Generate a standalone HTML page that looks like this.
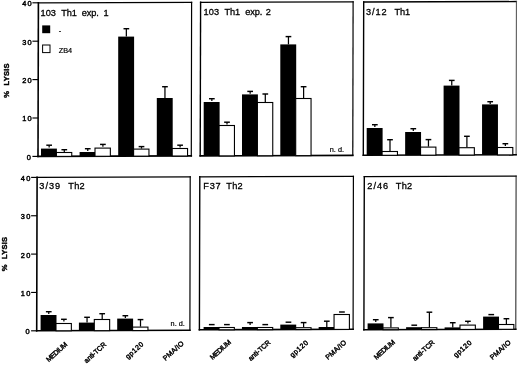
<!DOCTYPE html>
<html lang="en">
<head>
<meta charset="utf-8">
<title>% Lysis by Th1 and Th2 clones</title>
<style>
html,body{margin:0;padding:0;background:#fff;}
body{width:520px;height:365px;overflow:hidden;}
svg{display:block;}
text{font-family:"Liberation Sans",Arial,Helvetica,sans-serif;fill:#000;}
.tt{font-size:9.2px;stroke:#000;stroke-width:0.3px;}
.tk{font-size:7.4px;letter-spacing:1.3px;stroke:#000;stroke-width:0.45px;}
.yl{font-size:7.6px;font-weight:bold;stroke:#000;stroke-width:0.4px;letter-spacing:0.2px;}
.sm{font-size:7.3px;stroke:#000;stroke-width:0.2px;}
.xl{font-size:7px;stroke:#000;stroke-width:0.42px;}
</style>
</head>
<body>
<svg width="520" height="365" viewBox="0 0 520 365">
<rect x="0" y="0" width="520" height="365" fill="#fff"/>
<g stroke="#000" fill="none" stroke-linecap="square">
<line x1="38.4" y1="2.8" x2="191.6" y2="2.29" stroke-width="1.3"/>
<line x1="191.6" y1="2.29" x2="191.3" y2="155.89" stroke-width="1.2"/>
<line x1="38.4" y1="2.8" x2="38" y2="156.4" stroke-width="1.6"/>
<line x1="38" y1="156.4" x2="191.3" y2="155.89" stroke-width="1.6"/>
<line x1="32.4" y1="2.8" x2="38.4" y2="2.8" stroke-width="1.15" stroke-linecap="butt"/>
<line x1="32.4" y1="41.2" x2="38.4" y2="41.2" stroke-width="1.15" stroke-linecap="butt"/>
<line x1="32.4" y1="79.6" x2="38.4" y2="79.6" stroke-width="1.15" stroke-linecap="butt"/>
<line x1="32.4" y1="118" x2="38.4" y2="118" stroke-width="1.15" stroke-linecap="butt"/>
<line x1="32.4" y1="156.4" x2="38.4" y2="156.4" stroke-width="1.15" stroke-linecap="butt"/>
</g>
<text class="tk" x="33" y="6.2" text-anchor="end">40</text>
<text class="tk" x="33" y="44.6" text-anchor="end">30</text>
<text class="tk" x="33" y="83" text-anchor="end">20</text>
<text class="tk" x="33" y="121.4" text-anchor="end">10</text>
<text class="tk" x="32.2" y="159.8" text-anchor="end">0</text>
<text class="yl" transform="translate(8.8,97.8) rotate(-90)">%</text>
<text class="yl" transform="translate(8.8,85.5) rotate(-90)">LYSIS</text>
<text class="tt" y="15.6"><tspan x="40.56" letter-spacing="0.02">103</tspan> <tspan x="61.27" letter-spacing="-0.1">Th1</tspan> <tspan x="81.79" letter-spacing="-0.1">exp.</tspan> <tspan x="103.51" letter-spacing="0">1</tspan></text>
<rect x="41" y="148.6" width="15.9" height="7.79" fill="#000"/>
<rect x="56.4" y="152.5" width="15.35" height="3.89" fill="#fff" stroke="#000" stroke-width="1.1"/>
<path d="M46.3 145.2H52" stroke="#000" stroke-width="1.45" fill="none"/>
<path d="M49.15 145.2V147.5" stroke="#000" stroke-width="1.25" fill="none"/>
<path d="M61.45 149.7H67.15" stroke="#000" stroke-width="1.45" fill="none"/>
<path d="M64.3 149.7V152" stroke="#000" stroke-width="1.25" fill="none"/>
<rect x="79.6" y="152" width="15.9" height="4.26" fill="#000"/>
<rect x="95" y="148.1" width="15.35" height="8.16" fill="#fff" stroke="#000" stroke-width="1.1"/>
<path d="M84.9 148.7H90.6" stroke="#000" stroke-width="1.45" fill="none"/>
<path d="M87.75 148.7V151" stroke="#000" stroke-width="1.25" fill="none"/>
<path d="M100.05 144.4H105.75" stroke="#000" stroke-width="1.45" fill="none"/>
<path d="M102.9 144.4V146.7" stroke="#000" stroke-width="1.25" fill="none"/>
<rect x="118.2" y="36.6" width="15.9" height="119.54" fill="#000"/>
<rect x="133.6" y="149.1" width="15.35" height="7.04" fill="#fff" stroke="#000" stroke-width="1.1"/>
<path d="M123.5 28.7H129.2" stroke="#000" stroke-width="1.45" fill="none"/>
<path d="M126.35 28.7V36.6" stroke="#000" stroke-width="1.25" fill="none"/>
<path d="M138.65 146.6H144.35" stroke="#000" stroke-width="1.45" fill="none"/>
<path d="M141.5 146.6V148.6" stroke="#000" stroke-width="1.25" fill="none"/>
<rect x="156.8" y="98" width="15.9" height="58.01" fill="#000"/>
<rect x="172.2" y="148.5" width="15.35" height="7.51" fill="#fff" stroke="#000" stroke-width="1.1"/>
<path d="M162.1 86.7H167.8" stroke="#000" stroke-width="1.45" fill="none"/>
<path d="M164.95 86.7V98" stroke="#000" stroke-width="1.25" fill="none"/>
<path d="M177.25 145.2H182.95" stroke="#000" stroke-width="1.45" fill="none"/>
<path d="M180.1 145.2V147.5" stroke="#000" stroke-width="1.25" fill="none"/>
<g stroke="#000" fill="none" stroke-linecap="square">
<line x1="200.6" y1="2.3" x2="353.1" y2="1.8" stroke-width="1.3"/>
<line x1="353.1" y1="1.8" x2="352.8" y2="155.4" stroke-width="1.2"/>
<line x1="200.6" y1="2.3" x2="200.2" y2="155.9" stroke-width="1.4"/>
<line x1="200.2" y1="155.9" x2="352.8" y2="155.4" stroke-width="1.6"/>
</g>
<text class="tt" y="15"><tspan x="203.61" letter-spacing="0.09">103</tspan> <tspan x="224.47" letter-spacing="-0.1">Th1</tspan> <tspan x="245.29" letter-spacing="-0.1">exp.</tspan> <tspan x="265.74" letter-spacing="0">2</tspan></text>
<rect x="203.7" y="102" width="15.9" height="53.89" fill="#000"/>
<rect x="219.1" y="125.5" width="15.35" height="30.39" fill="#fff" stroke="#000" stroke-width="1.1"/>
<path d="M209 98.7H214.7" stroke="#000" stroke-width="1.45" fill="none"/>
<path d="M211.85 98.7V101" stroke="#000" stroke-width="1.25" fill="none"/>
<path d="M224.15 122.2H229.85" stroke="#000" stroke-width="1.45" fill="none"/>
<path d="M227 122.2V124.5" stroke="#000" stroke-width="1.25" fill="none"/>
<rect x="242" y="94.4" width="15.9" height="61.36" fill="#000"/>
<rect x="257.4" y="102.5" width="15.35" height="53.26" fill="#fff" stroke="#000" stroke-width="1.1"/>
<path d="M247.3 91.4H253" stroke="#000" stroke-width="1.45" fill="none"/>
<path d="M250.15 91.4V93.7" stroke="#000" stroke-width="1.25" fill="none"/>
<path d="M262.45 94H268.15" stroke="#000" stroke-width="1.45" fill="none"/>
<path d="M265.3 94V102" stroke="#000" stroke-width="1.25" fill="none"/>
<rect x="280.3" y="44.4" width="15.9" height="111.24" fill="#000"/>
<rect x="295.7" y="98.5" width="15.35" height="57.14" fill="#fff" stroke="#000" stroke-width="1.1"/>
<path d="M285.6 36.6H291.3" stroke="#000" stroke-width="1.45" fill="none"/>
<path d="M288.45 36.6V44.4" stroke="#000" stroke-width="1.25" fill="none"/>
<path d="M300.75 86.7H306.45" stroke="#000" stroke-width="1.45" fill="none"/>
<path d="M303.6 86.7V98" stroke="#000" stroke-width="1.25" fill="none"/>
<text class="sm" x="329.8" y="152">n. d.</text>
<g stroke="#000" fill="none" stroke-linecap="square">
<line x1="363.7" y1="2" x2="516.4" y2="1.5" stroke-width="1.3"/>
<line x1="516.4" y1="1.5" x2="516.1" y2="154.8" stroke-width="1.0" stroke="#4a4a4a"/>
<line x1="363.7" y1="2" x2="363.3" y2="155.3" stroke-width="1.4"/>
<line x1="363.3" y1="155.3" x2="516.1" y2="154.8" stroke-width="1.6"/>
</g>
<text class="tt" y="14.9"><tspan x="365.93" letter-spacing="0.96">3/12</tspan> <tspan x="394.57" letter-spacing="-0.1">Th1</tspan></text>
<rect x="366.7" y="128" width="15.9" height="27.29" fill="#000"/>
<rect x="382.1" y="151.5" width="15.35" height="3.79" fill="#fff" stroke="#000" stroke-width="1.1"/>
<path d="M372 124.7H377.7" stroke="#000" stroke-width="1.45" fill="none"/>
<path d="M374.85 124.7V127" stroke="#000" stroke-width="1.25" fill="none"/>
<path d="M387.15 139.7H392.85" stroke="#000" stroke-width="1.45" fill="none"/>
<path d="M390 139.7V151" stroke="#000" stroke-width="1.25" fill="none"/>
<rect x="405.15" y="132" width="15.9" height="23.16" fill="#000"/>
<rect x="420.55" y="147.1" width="15.35" height="8.06" fill="#fff" stroke="#000" stroke-width="1.1"/>
<path d="M410.45 128.7H416.15" stroke="#000" stroke-width="1.45" fill="none"/>
<path d="M413.3 128.7V131" stroke="#000" stroke-width="1.25" fill="none"/>
<path d="M425.6 139.6H431.3" stroke="#000" stroke-width="1.45" fill="none"/>
<path d="M428.45 139.6V146.6" stroke="#000" stroke-width="1.25" fill="none"/>
<rect x="443.6" y="85.6" width="15.9" height="69.44" fill="#000"/>
<rect x="459" y="147.7" width="15.35" height="7.34" fill="#fff" stroke="#000" stroke-width="1.1"/>
<path d="M448.9 80.4H454.6" stroke="#000" stroke-width="1.45" fill="none"/>
<path d="M451.75 80.4V85.6" stroke="#000" stroke-width="1.25" fill="none"/>
<path d="M464.05 136.3H469.75" stroke="#000" stroke-width="1.45" fill="none"/>
<path d="M466.9 136.3V147.2" stroke="#000" stroke-width="1.25" fill="none"/>
<rect x="482.05" y="104.4" width="15.9" height="50.51" fill="#000"/>
<rect x="497.45" y="147.5" width="15.35" height="7.41" fill="#fff" stroke="#000" stroke-width="1.1"/>
<path d="M487.35 101.7H493.05" stroke="#000" stroke-width="1.45" fill="none"/>
<path d="M490.2 101.7V104" stroke="#000" stroke-width="1.25" fill="none"/>
<path d="M502.5 143.7H508.2" stroke="#000" stroke-width="1.45" fill="none"/>
<path d="M505.35 143.7V146" stroke="#000" stroke-width="1.25" fill="none"/>
<g stroke="#000" fill="none" stroke-linecap="square">
<line x1="37.1" y1="177.4" x2="190.2" y2="176.89" stroke-width="1.3"/>
<line x1="190.2" y1="176.89" x2="189.9" y2="330.29" stroke-width="1.2"/>
<line x1="37.1" y1="177.4" x2="36.7" y2="330.8" stroke-width="1.6"/>
<line x1="36.7" y1="330.8" x2="189.9" y2="330.29" stroke-width="1.6"/>
<line x1="31.1" y1="177.4" x2="37.1" y2="177.4" stroke-width="1.15" stroke-linecap="butt"/>
<line x1="31.1" y1="215.75" x2="37.1" y2="215.75" stroke-width="1.15" stroke-linecap="butt"/>
<line x1="31.1" y1="254.1" x2="37.1" y2="254.1" stroke-width="1.15" stroke-linecap="butt"/>
<line x1="31.1" y1="292.45" x2="37.1" y2="292.45" stroke-width="1.15" stroke-linecap="butt"/>
<line x1="31.1" y1="330.8" x2="37.1" y2="330.8" stroke-width="1.15" stroke-linecap="butt"/>
</g>
<text class="tk" x="31.7" y="180.8" text-anchor="end">40</text>
<text class="tk" x="31.7" y="219.15" text-anchor="end">30</text>
<text class="tk" x="31.7" y="257.5" text-anchor="end">20</text>
<text class="tk" x="31.7" y="295.85" text-anchor="end">10</text>
<text class="tk" x="30.9" y="334.2" text-anchor="end">0</text>
<text class="yl" transform="translate(7.3,271.3) rotate(-90)">%</text>
<text class="yl" transform="translate(7.3,259) rotate(-90)">LYSIS</text>
<text class="tt" y="189.2"><tspan x="39.33" letter-spacing="1">3/39</tspan> <tspan x="68.27" letter-spacing="0.31">Th2</tspan></text>
<rect x="40.6" y="315" width="15.9" height="15.79" fill="#000"/>
<rect x="56" y="323.5" width="15.35" height="7.29" fill="#fff" stroke="#000" stroke-width="1.1"/>
<path d="M45.9 311.7H51.6" stroke="#000" stroke-width="1.45" fill="none"/>
<path d="M48.75 311.7V314" stroke="#000" stroke-width="1.25" fill="none"/>
<path d="M61.05 319.3H66.75" stroke="#000" stroke-width="1.45" fill="none"/>
<path d="M63.9 319.3V321.6" stroke="#000" stroke-width="1.25" fill="none"/>
<rect x="78.9" y="322.6" width="15.9" height="8.06" fill="#000"/>
<rect x="94.3" y="319.5" width="15.35" height="11.16" fill="#fff" stroke="#000" stroke-width="1.1"/>
<path d="M84.2 317.3H89.9" stroke="#000" stroke-width="1.45" fill="none"/>
<path d="M87.05 317.3V322.6" stroke="#000" stroke-width="1.25" fill="none"/>
<path d="M99.35 313.7H105.05" stroke="#000" stroke-width="1.45" fill="none"/>
<path d="M102.2 313.7V319" stroke="#000" stroke-width="1.25" fill="none"/>
<rect x="117.2" y="318.6" width="15.9" height="11.94" fill="#000"/>
<rect x="132.6" y="327.1" width="15.35" height="3.44" fill="#fff" stroke="#000" stroke-width="1.1"/>
<path d="M122.5 315.7H128.2" stroke="#000" stroke-width="1.45" fill="none"/>
<path d="M125.35 315.7V318" stroke="#000" stroke-width="1.25" fill="none"/>
<path d="M137.65 319.6H143.35" stroke="#000" stroke-width="1.45" fill="none"/>
<path d="M140.5 319.6V326.6" stroke="#000" stroke-width="1.25" fill="none"/>
<text class="sm" x="170.6" y="326">n. d.</text>
<text class="xl" transform="translate(67.45,345.4) rotate(-42)" text-anchor="end" letter-spacing="-0.55">MEDIUM</text>
<text class="xl" transform="translate(106.68,345.29) rotate(-42)" text-anchor="end" letter-spacing="-0.12">anti-TCR</text>
<text class="xl" transform="translate(144.35,344.66) rotate(-42)" text-anchor="end" letter-spacing="0.5">gp120</text>
<text class="xl" transform="translate(184.35,343.99) rotate(-42)" text-anchor="end" letter-spacing="0.15">PMA/IO</text>
<g stroke="#000" fill="none" stroke-linecap="square">
<line x1="199.8" y1="176.8" x2="353.4" y2="176.29" stroke-width="1.3"/>
<line x1="353.4" y1="176.29" x2="353.1" y2="329.29" stroke-width="1.2"/>
<line x1="199.8" y1="176.8" x2="199.4" y2="329.8" stroke-width="1.4"/>
<line x1="199.4" y1="329.8" x2="353.1" y2="329.29" stroke-width="1.6"/>
</g>
<text class="tt" y="189.2"><tspan x="203.26" letter-spacing="0.79">F37</tspan> <tspan x="226.27" letter-spacing="0.31">Th2</tspan></text>
<rect x="203.6" y="327" width="15.9" height="2.79" fill="#000"/>
<rect x="219" y="327.5" width="15.35" height="2.29" fill="#fff" stroke="#000" stroke-width="1.1"/>
<path d="M208.9 324.6H214.6" stroke="#000" stroke-width="1.45" fill="none"/>
<path d="M224.05 324.6H229.75" stroke="#000" stroke-width="1.45" fill="none"/>
<rect x="241.95" y="327" width="15.9" height="2.66" fill="#000"/>
<rect x="257.35" y="327.5" width="15.35" height="2.16" fill="#fff" stroke="#000" stroke-width="1.1"/>
<path d="M247.25 322.6H252.95" stroke="#000" stroke-width="1.45" fill="none"/>
<path d="M250.1 322.6V324.9" stroke="#000" stroke-width="1.25" fill="none"/>
<path d="M262.4 324.6H268.1" stroke="#000" stroke-width="1.45" fill="none"/>
<rect x="280.3" y="324.6" width="15.9" height="4.93" fill="#000"/>
<rect x="295.7" y="327.7" width="15.35" height="1.83" fill="#fff" stroke="#000" stroke-width="1.1"/>
<path d="M285.6 322.2H291.3" stroke="#000" stroke-width="1.45" fill="none"/>
<path d="M300.75 322.6H306.45" stroke="#000" stroke-width="1.45" fill="none"/>
<path d="M303.6 322.6V327.2" stroke="#000" stroke-width="1.25" fill="none"/>
<rect x="318.65" y="327" width="15.9" height="2.41" fill="#000"/>
<rect x="334.05" y="314.5" width="15.35" height="14.91" fill="#fff" stroke="#000" stroke-width="1.1"/>
<path d="M323.95 321.2H329.65" stroke="#000" stroke-width="1.45" fill="none"/>
<path d="M326.8 321.2V327" stroke="#000" stroke-width="1.25" fill="none"/>
<path d="M339.1 312H344.8" stroke="#000" stroke-width="1.45" fill="none"/>
<text class="xl" transform="translate(231.15,343.21) rotate(-42)" text-anchor="end" letter-spacing="-0.55">MEDIUM</text>
<text class="xl" transform="translate(270.83,343.1) rotate(-42)" text-anchor="end" letter-spacing="-0.12">anti-TCR</text>
<text class="xl" transform="translate(308.9,343.1) rotate(-42)" text-anchor="end" letter-spacing="0.5">gp120</text>
<text class="xl" transform="translate(346.9,343.1) rotate(-42)" text-anchor="end" letter-spacing="0.15">PMA/IO</text>
<g stroke="#000" fill="none" stroke-linecap="square">
<line x1="364.3" y1="176.6" x2="516.1" y2="176.1" stroke-width="1.3"/>
<line x1="516.1" y1="176.1" x2="515.8" y2="329.2" stroke-width="1.0" stroke="#1a1a1a"/>
<line x1="364.3" y1="176.6" x2="363.9" y2="329.7" stroke-width="1.4"/>
<line x1="363.9" y1="329.7" x2="515.8" y2="329.2" stroke-width="1.6"/>
</g>
<text class="tt" y="189"><tspan x="367.34" letter-spacing="0.98">2/46</tspan> <tspan x="395.77" letter-spacing="0.31">Th2</tspan></text>
<rect x="367.6" y="323.4" width="15.9" height="6.29" fill="#000"/>
<rect x="383" y="327.9" width="15.35" height="1.79" fill="#fff" stroke="#000" stroke-width="1.1"/>
<path d="M372.9 319.7H378.6" stroke="#000" stroke-width="1.45" fill="none"/>
<path d="M375.75 319.7V322" stroke="#000" stroke-width="1.25" fill="none"/>
<path d="M388.05 317.6H393.75" stroke="#000" stroke-width="1.45" fill="none"/>
<path d="M390.9 317.6V327.4" stroke="#000" stroke-width="1.25" fill="none"/>
<rect x="406.1" y="327.2" width="15.9" height="2.36" fill="#000"/>
<rect x="421.5" y="327.7" width="15.35" height="1.86" fill="#fff" stroke="#000" stroke-width="1.1"/>
<path d="M411.4 325.2H417.1" stroke="#000" stroke-width="1.45" fill="none"/>
<path d="M426.55 312.2H432.25" stroke="#000" stroke-width="1.45" fill="none"/>
<path d="M429.4 312.2V327.2" stroke="#000" stroke-width="1.25" fill="none"/>
<rect x="444.6" y="327.4" width="15.9" height="2.04" fill="#000"/>
<rect x="460" y="325.1" width="15.35" height="4.34" fill="#fff" stroke="#000" stroke-width="1.1"/>
<path d="M449.9 322.7H455.6" stroke="#000" stroke-width="1.45" fill="none"/>
<path d="M452.75 322.7V327.4" stroke="#000" stroke-width="1.25" fill="none"/>
<path d="M465.05 321.3H470.75" stroke="#000" stroke-width="1.45" fill="none"/>
<path d="M467.9 321.3V323.6" stroke="#000" stroke-width="1.25" fill="none"/>
<rect x="483.1" y="316.6" width="15.9" height="12.71" fill="#000"/>
<rect x="498.5" y="324.5" width="15.35" height="4.81" fill="#fff" stroke="#000" stroke-width="1.1"/>
<path d="M488.4 314.6H494.1" stroke="#000" stroke-width="1.45" fill="none"/>
<path d="M503.55 318.7H509.25" stroke="#000" stroke-width="1.45" fill="none"/>
<path d="M506.4 318.7V324" stroke="#000" stroke-width="1.25" fill="none"/>
<text class="xl" transform="translate(395.15,343.1) rotate(-42)" text-anchor="end" letter-spacing="-0.55">MEDIUM</text>
<text class="xl" transform="translate(434.98,343.1) rotate(-42)" text-anchor="end" letter-spacing="-0.12">anti-TCR</text>
<text class="xl" transform="translate(472.4,343.1) rotate(-42)" text-anchor="end" letter-spacing="0.5">gp120</text>
<text class="xl" transform="translate(511.35,343.1) rotate(-42)" text-anchor="end" letter-spacing="0.15">PMA/IO</text>
<rect x="42.2" y="25.4" width="8" height="7.8" fill="#000"/>
<rect x="42.6" y="45" width="7.4" height="7.6" fill="#fff" stroke="#000" stroke-width="1"/>
<text class="sm" x="58.8" y="33">-</text>
<text class="sm" x="58.8" y="53">ZB4</text>
</svg>
</body>
</html>
